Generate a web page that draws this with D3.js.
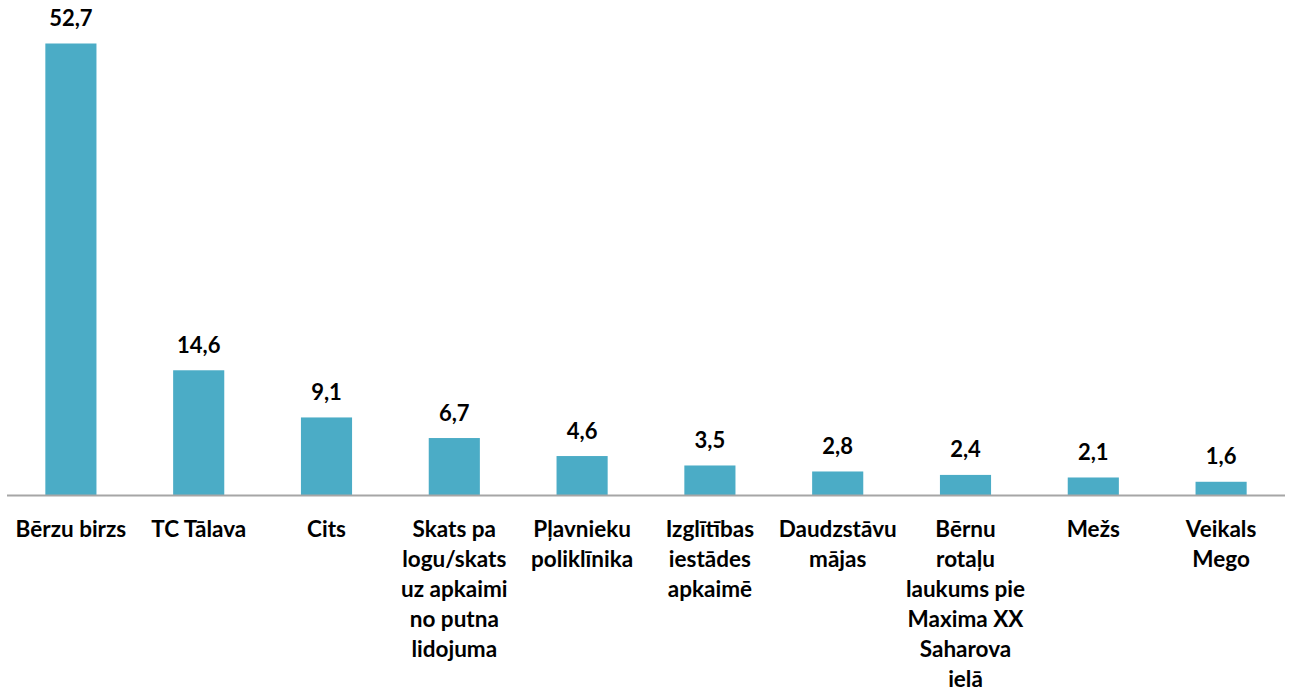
<!DOCTYPE html>
<html><head><meta charset="utf-8">
<script src="https://cdn.jsdelivr.net/npm/d3@7"></script>
<style>html,body{margin:0;padding:0;background:#fff;}svg{display:block;}</style>
</head><body>
<svg id="chart" width="1290" height="691"></svg>
<script>
const categories = [
  "Bērzu birzs",
  "TC Tālava",
  "Cits",
  "Skats pa\nlogu/skats\nuz apkaimi\nno putna\nlidojuma",
  "Pļavnieku\npoliklīnika",
  "Izglītības\niestādes\napkaimē",
  "Daudzstāvu\nmājas",
  "Bērnu\nrotaļu\nlaukums pie\nMaxima XX\nSaharova\nielā",
  "Mežs",
  "Veikals\nMego"
];
const values = [52.7, 14.6, 9.1, 6.7, 4.6, 3.5, 2.8, 2.4, 2.1, 1.6];
const valueLabels = ["52,7","14,6","9,1","6,7","4,6","3,5","2,8","2,4","2,1","1,6"];

const svg = d3.select("#chart");
const left = 7, right = 1285, baseY = 495.5;
const x = d3.scaleBand().domain(categories).range([left, right]).paddingInner(0.6).paddingOuter(0.3);
const y = d3.scaleLinear().domain([0, 52.7]).range([baseY, 43.5]);
const font = "Lato, 'Open Sans', sans-serif";

svg.selectAll("rect.bar").data(values).join("rect")
  .attr("class","bar")
  .attr("x",(d,i)=>x(categories[i]))
  .attr("width",x.bandwidth())
  .attr("y",d=>y(d))
  .attr("height",d=>baseY-y(d))
  .attr("fill","#4BACC6");

svg.append("line").attr("x1",left).attr("x2",right).attr("y1",baseY).attr("y2",baseY)
  .attr("stroke","#A6A6A6").attr("stroke-width",2);

svg.selectAll("text.val").data(values).join("text")
  .attr("class","val")
  .attr("x",(d,i)=>x(categories[i])+x.bandwidth()/2)
  .attr("y",d=>y(d)-17.5)
  .attr("text-anchor","middle")
  .attr("font-family",font).attr("font-weight","bold").attr("font-size",22)
  .attr("fill","#000")
  .text((d,i)=>valueLabels[i]);

const g = svg.selectAll("text.cat").data(categories).join("text")
  .attr("class","cat")
  .attr("text-anchor","middle")
  .attr("font-family",font).attr("font-weight","bold").attr("font-size",22.5)
  .attr("fill","#000");
g.each(function(c){
  const t = d3.select(this);
  const cx = x(c)+x.bandwidth()/2;
  c.split("\n").forEach((line,j)=>{
    t.append("tspan").attr("x",cx).attr("y",537+j*30).text(line);
  });
});
</script>
</body></html>
